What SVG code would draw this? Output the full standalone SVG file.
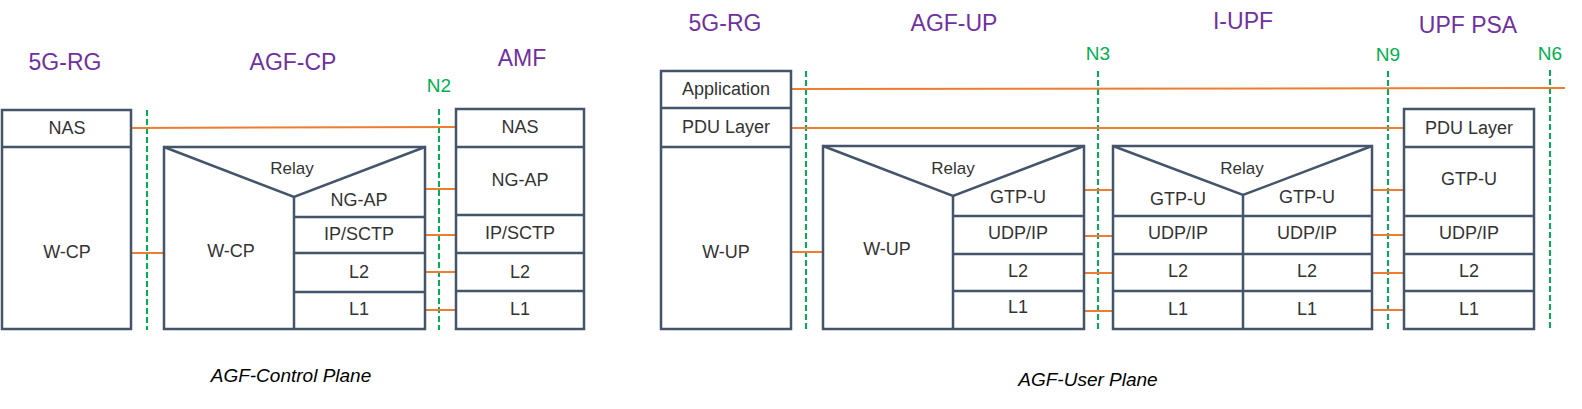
<svg xmlns="http://www.w3.org/2000/svg" width="1582" height="409" viewBox="0 0 1582 409">
<style>
.box{fill:#fff;stroke:#44546a;stroke-width:2.5}
.ln{stroke:#44546a;stroke-width:2.5;fill:none}
.t{font-family:"Liberation Sans",Arial,sans-serif;font-size:18px;fill:#333;text-anchor:middle;dominant-baseline:central}
.r{font-size:17px}
.ttl{font-family:"Liberation Sans",Arial,sans-serif;font-size:23px;fill:#7030a0;text-anchor:middle;dominant-baseline:central}
.ref{font-family:"Liberation Sans",Arial,sans-serif;font-size:19px;fill:#00b050;text-anchor:middle;dominant-baseline:central}
.cap{font-family:"Liberation Sans",Arial,sans-serif;font-size:19px;font-style:italic;fill:#000;text-anchor:middle}
.o{stroke:#ed7d31;stroke-width:2;fill:none}
.g{stroke:#00b050;stroke-width:2;stroke-dasharray:6 3;fill:none}
</style>
<rect width="1582" height="409" fill="#fff"/>

<g id="titles">
<text class="ttl" x="65" y="62">5G-RG</text>
<text class="ttl" x="293" y="62">AGF-CP</text>
<text class="ttl" x="522" y="58">AMF</text>
<text class="ttl" x="725" y="23">5G-RG</text>
<text class="ttl" x="954" y="23">AGF-UP</text>
<text class="ttl" x="1243" y="21">I-UPF</text>
<text class="ttl" x="1468" y="25">UPF PSA</text>
<text class="ref" x="439" y="85">N2</text>
<text class="ref" x="1098" y="53">N3</text>
<text class="ref" x="1388" y="54">N9</text>
<text class="ref" x="1550" y="53">N6</text>
<text class="cap" x="291" y="382">AGF-Control Plane</text>
<text class="cap" x="1088" y="386">AGF-User Plane</text>
</g>

<g id="connectors">
<line class="g" x1="147" y1="110" x2="147" y2="330"/>
<line class="g" x1="439" y1="109" x2="439" y2="330"/>
<line class="g" x1="806" y1="71" x2="806" y2="330"/>
<line class="g" x1="1098" y1="71" x2="1098" y2="330"/>
<line class="g" x1="1388" y1="71" x2="1388" y2="330"/>
<line class="g" x1="1550" y1="70" x2="1550" y2="329"/>
<line class="o" x1="131" y1="128" x2="456" y2="127"/>
<line class="o" x1="131" y1="253" x2="164" y2="253"/>
<line class="o" x1="425" y1="189" x2="456" y2="189"/>
<line class="o" x1="425" y1="235" x2="456" y2="235"/>
<line class="o" x1="425" y1="272" x2="456" y2="272"/>
<line class="o" x1="425" y1="310" x2="456" y2="310"/>
<line class="o" x1="791" y1="89" x2="1565" y2="88"/>
<line class="o" x1="791" y1="128" x2="1404" y2="128"/>
<line class="o" x1="791" y1="252" x2="823" y2="252"/>
<line class="o" x1="1084" y1="190" x2="1113" y2="190"/>
<line class="o" x1="1084" y1="236" x2="1113" y2="236"/>
<line class="o" x1="1084" y1="273" x2="1113" y2="273"/>
<line class="o" x1="1084" y1="311" x2="1113" y2="311"/>
<line class="o" x1="1372" y1="190" x2="1404" y2="190"/>
<line class="o" x1="1372" y1="235" x2="1404" y2="235"/>
<line class="o" x1="1372" y1="273" x2="1404" y2="273"/>
<line class="o" x1="1372" y1="310" x2="1404" y2="310"/>
</g>

<g id="rg-cp">
<rect class="box" x="2" y="110" width="129" height="219"/>
<line class="ln" x1="2" y1="147" x2="131" y2="147"/>
<text class="t" x="67" y="128">NAS</text>
<text class="t" x="67" y="252">W-CP</text>
</g>

<g id="agf-cp">
<rect class="box" x="164" y="147" width="261" height="182"/>
<polyline class="ln" points="164,147 294,197 425,147"/>
<line class="ln" x1="294" y1="197" x2="294" y2="329"/>
<line class="ln" x1="294" y1="217" x2="425" y2="217"/>
<line class="ln" x1="294" y1="253" x2="425" y2="253"/>
<line class="ln" x1="294" y1="292" x2="425" y2="292"/>
<text class="t r" x="292" y="168">Relay</text>
<text class="t" x="231" y="251">W-CP</text>
<text class="t" x="359" y="200">NG-AP</text>
<text class="t" x="359" y="234">IP/SCTP</text>
<text class="t" x="359" y="272">L2</text>
<text class="t" x="359" y="309">L1</text>
</g>

<g id="amf">
<rect class="box" x="456" y="109" width="128" height="220"/>
<line class="ln" x1="456" y1="147" x2="584" y2="147"/>
<line class="ln" x1="456" y1="215" x2="584" y2="215"/>
<line class="ln" x1="456" y1="253" x2="584" y2="253"/>
<line class="ln" x1="456" y1="291" x2="584" y2="291"/>
<text class="t" x="520" y="127">NAS</text>
<text class="t" x="520" y="180">NG-AP</text>
<text class="t" x="520" y="233">IP/SCTP</text>
<text class="t" x="520" y="272">L2</text>
<text class="t" x="520" y="309">L1</text>
</g>

<g id="rg-up">
<rect class="box" x="661" y="71" width="130" height="258"/>
<line class="ln" x1="661" y1="108" x2="791" y2="108"/>
<line class="ln" x1="661" y1="147" x2="791" y2="147"/>
<text class="t" x="726" y="89">Application</text>
<text class="t" x="726" y="127">PDU Layer</text>
<text class="t" x="726" y="252">W-UP</text>
</g>

<g id="agf-up">
<rect class="box" x="823" y="146" width="261" height="183"/>
<polyline class="ln" points="823,146 953,196 1084,146"/>
<line class="ln" x1="953" y1="196" x2="953" y2="329"/>
<line class="ln" x1="953" y1="216" x2="1084" y2="216"/>
<line class="ln" x1="953" y1="254" x2="1084" y2="254"/>
<line class="ln" x1="953" y1="291" x2="1084" y2="291"/>
<text class="t r" x="953" y="168">Relay</text>
<text class="t" x="887" y="249">W-UP</text>
<text class="t" x="1018" y="197">GTP-U</text>
<text class="t" x="1018" y="233">UDP/IP</text>
<text class="t" x="1018" y="271">L2</text>
<text class="t" x="1018" y="307">L1</text>
</g>

<g id="i-upf">
<rect class="box" x="1113" y="146" width="259" height="183"/>
<polyline class="ln" points="1113,146 1243,195 1372,146"/>
<line class="ln" x1="1243" y1="195" x2="1243" y2="329"/>
<line class="ln" x1="1113" y1="216" x2="1372" y2="216"/>
<line class="ln" x1="1113" y1="254" x2="1372" y2="254"/>
<line class="ln" x1="1113" y1="291" x2="1372" y2="291"/>
<text class="t r" x="1242" y="168">Relay</text>
<text class="t" x="1178" y="199">GTP-U</text>
<text class="t" x="1307" y="197">GTP-U</text>
<text class="t" x="1178" y="233">UDP/IP</text>
<text class="t" x="1307" y="233">UDP/IP</text>
<text class="t" x="1178" y="271">L2</text>
<text class="t" x="1307" y="271">L2</text>
<text class="t" x="1178" y="309">L1</text>
<text class="t" x="1307" y="309">L1</text>
</g>

<g id="upf-psa">
<rect class="box" x="1404" y="109" width="130" height="220"/>
<line class="ln" x1="1404" y1="147" x2="1534" y2="147"/>
<line class="ln" x1="1404" y1="216" x2="1534" y2="216"/>
<line class="ln" x1="1404" y1="254" x2="1534" y2="254"/>
<line class="ln" x1="1404" y1="291" x2="1534" y2="291"/>
<text class="t" x="1469" y="128">PDU Layer</text>
<text class="t" x="1469" y="179">GTP-U</text>
<text class="t" x="1469" y="233">UDP/IP</text>
<text class="t" x="1469" y="271">L2</text>
<text class="t" x="1469" y="309">L1</text>
</g>
</svg>
